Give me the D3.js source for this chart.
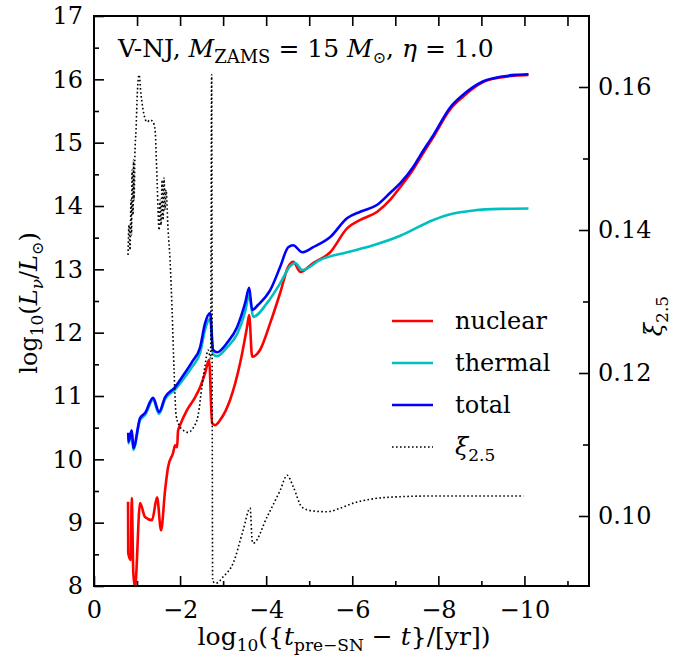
<!DOCTYPE html>
<html lang="en">
<head>
<meta charset="UTF-8">
<title>V-NJ neutrino luminosity</title>
<script src="https://d3js.org/d3.v7.min.js"></script>
<style>
    body { margin: 0; background: #fff; }
    svg { display: block; }
    text { font-family: "DejaVu Serif", "Liberation Serif", serif; fill: #000; }
    .curve { fill: none; stroke-width: 2.6px; stroke-linejoin: round; }
    .xi { fill: none; stroke: #000; stroke-width: 1.6px; stroke-dasharray: 1.6,2.4; }
</style>
</head>
<body>
<svg id="chart" width="697" height="662"></svg>
<script>
// series, [log10(t_pre-SN - t), value]
const nuclear = [
    [-0.791, 9.33], [-0.795, 8.52], [-0.853, 8.41], [-0.877, 9.39], [-0.914, 8.20], [-0.953, 7.98],
    [-1.070, 9.31], [-1.186, 9.09], [-1.349, 9.04], [-1.465, 9.40], [-1.558, 8.88], [-1.651, 9.51],
    [-1.721, 9.88], [-1.837, 10.10], [-1.884, 10.22], [-1.930, 10.19], [-1.953, 10.45], [-2.000, 10.54],
    [-2.163, 10.78], [-2.349, 10.98], [-2.465, 11.14], [-2.581, 11.36], [-2.674, 11.57], [-2.744, 10.57],
    [-2.814, 10.54], [-2.930, 10.62], [-3.163, 10.94], [-3.395, 11.52], [-3.558, 12.10], [-3.605, 12.28],
    [-3.674, 11.62], [-3.860, 11.73], [-4.093, 12.15], [-4.326, 12.63], [-4.512, 13.04], [-4.628, 13.12],
    [-4.791, 12.96], [-5.093, 13.10], [-5.488, 13.27], [-5.884, 13.65], [-6.186, 13.78], [-6.581, 13.91],
    [-6.884, 14.10], [-7.116, 14.30], [-7.419, 14.58], [-7.581, 14.76], [-7.884, 15.09], [-8.279, 15.53],
    [-8.581, 15.73], [-8.814, 15.86], [-9.047, 15.96], [-9.442, 16.03], [-9.800, 16.06], [-10.093, 16.07]
];
const thermal = [
    [-0.795, 10.39], [-0.800, 10.25], [-0.877, 10.43], [-0.914, 10.15], [-1.070, 10.62], [-1.186, 10.70],
    [-1.372, 10.94], [-1.512, 10.72], [-1.651, 10.95], [-1.884, 11.10], [-2.047, 11.24], [-2.279, 11.46],
    [-2.465, 11.68], [-2.581, 12.05], [-2.698, 12.22], [-2.767, 11.66], [-2.860, 11.63], [-3.093, 11.77],
    [-3.326, 11.98], [-3.512, 12.33], [-3.605, 12.60], [-3.698, 12.25], [-4.023, 12.47], [-4.326, 12.78],
    [-4.558, 13.05], [-4.674, 13.10], [-4.837, 12.99], [-5.256, 13.15], [-5.884, 13.27], [-6.488, 13.38],
    [-7.116, 13.53], [-7.884, 13.78], [-8.279, 13.87], [-8.814, 13.93], [-9.442, 13.955], [-10.093, 13.96]
];
const total = [
    [-0.795, 10.42], [-0.800, 10.28], [-0.877, 10.46], [-0.914, 10.18], [-1.070, 10.65], [-1.186, 10.73],
    [-1.372, 10.97], [-1.512, 10.75], [-1.651, 10.98], [-1.884, 11.14], [-2.047, 11.30], [-2.279, 11.54],
    [-2.465, 11.77], [-2.581, 12.15], [-2.698, 12.31], [-2.767, 11.73], [-2.860, 11.69], [-3.093, 11.84],
    [-3.326, 12.09], [-3.512, 12.47], [-3.605, 12.71], [-3.674, 12.36], [-3.814, 12.44], [-4.093, 12.67],
    [-4.326, 13.04], [-4.512, 13.35], [-4.628, 13.38], [-4.837, 13.27], [-5.093, 13.35], [-5.488, 13.51],
    [-5.884, 13.81], [-6.186, 13.91], [-6.581, 14.02], [-6.884, 14.21], [-7.116, 14.36], [-7.419, 14.62],
    [-7.581, 14.80], [-7.884, 15.12], [-8.279, 15.56], [-8.581, 15.76], [-8.814, 15.88], [-9.047, 15.97],
    [-9.442, 16.04], [-9.800, 16.07], [-10.093, 16.08]
];
const xi25 = [
    [-0.791, 0.1365], [-0.814, 0.1407], [-0.837, 0.1372], [-0.860, 0.1442], [-0.872, 0.1393], [-0.884, 0.1484],
    [-0.907, 0.1421], [-0.919, 0.1498], [-0.930, 0.1442], [-0.953, 0.1512], [-0.977, 0.1540], [-1.000, 0.1582],
    [-1.047, 0.1617], [-1.093, 0.1589], [-1.163, 0.1561], [-1.233, 0.1551], [-1.302, 0.1554], [-1.372, 0.1551],
    [-1.419, 0.1540], [-1.465, 0.1470], [-1.512, 0.1400], [-1.535, 0.1442], [-1.558, 0.1407], [-1.581, 0.1470],
    [-1.605, 0.1414], [-1.628, 0.1473], [-1.651, 0.1428], [-1.674, 0.1456], [-1.721, 0.1400], [-1.767, 0.1358],
    [-1.814, 0.1288], [-1.860, 0.1204], [-1.907, 0.1141], [-1.977, 0.1127], [-2.070, 0.1120], [-2.186, 0.1117],
    [-2.302, 0.1123], [-2.419, 0.1141], [-2.512, 0.1183], [-2.581, 0.1211], [-2.651, 0.1232], [-2.709, 0.1220],
    [-2.733, 0.1617], [-2.756, 0.0909], [-2.837, 0.0906], [-3.000, 0.0915], [-3.233, 0.0934], [-3.465, 0.0980],
    [-3.628, 0.1011], [-3.674, 0.0966], [-3.698, 0.0962], [-4.023, 0.0999], [-4.326, 0.1036], [-4.488, 0.1057],
    [-4.628, 0.1041], [-4.837, 0.1012], [-5.093, 0.1007], [-5.419, 0.1006], [-5.721, 0.1011], [-6.023, 0.1018],
    [-6.488, 0.1024], [-7.116, 0.1027], [-7.884, 0.1028], [-9.977, 0.1028]
];

const xTicks = [0, -2, -4, -6, -8, -10];
const yTicks = [8, 9, 10, 11, 12, 13, 14, 15, 16, 17];
const xiTicks = [0.10, 0.12, 0.14, 0.16];

const legendItems = [
    { key: "nuclear", color: "#ff0000" },
    { key: "thermal", color: "#00bfbf" },
    { key: "total", color: "#0000ff" },
    { key: "xi", color: "#000" }
];

const mL = 94, mR = 589, mT = 16, mB = 586;

const x = d3.scaleLinear().domain([0, -11.5]).range([mL, mR]);
const y = d3.scaleLinear().domain([8, 17]).range([mB, mT]);
const yXi = d3.scaleLinear().domain([0.09021, 0.16993]).range([mB, mT]);

const svg = d3.select("#chart");

svg.append("defs").append("clipPath").attr("id", "plotClip")
    .append("rect").attr("x", mL).attr("y", mT)
    .attr("width", mR - mL).attr("height", mB - mT);

const plot = svg.append("g").attr("clip-path", "url(#plotClip)");

const lineL = d3.line().x(d => x(d[0])).y(d => y(d[1])).curve(d3.curveMonotoneX);
const lineXi = d3.line().x(d => x(d[0])).y(d => yXi(d[1])).curve(d3.curveMonotoneX);

plot.append("path").datum(nuclear).attr("class", "curve").attr("stroke", "#ff0000").attr("d", lineL);
plot.append("path").datum(thermal).attr("class", "curve").attr("stroke", "#00bfbf").attr("d", lineL);
plot.append("path").datum(total).attr("class", "curve").attr("stroke", "#0000ff").attr("d", lineL);
plot.append("path").datum(xi25).attr("class", "xi").attr("d", lineXi);

// axes with inward ticks
function styleAxis(g) {
    g.select(".domain").remove();
    g.selectAll("line").attr("stroke", "#000").attr("stroke-width", 1.6);
    g.selectAll("text").style("font-size", "24px");
}

const xMinor = d3.range(-1, -12, -2);
const yMinor = d3.range(8.5, 17, 1);
const xiMinor = [0.11, 0.13, 0.15];

// bottom
svg.append("g").attr("transform", `translate(0,${mB})`)
    .call(d3.axisBottom(x).tickValues(xTicks).tickSizeInner(-10).tickSizeOuter(0).tickPadding(15)
        .tickFormat(d => d === 0 ? "0" : "\u2212" + Math.abs(d)))
    .call(styleAxis);
svg.append("g").attr("transform", `translate(0,${mB})`)
    .call(d3.axisBottom(x).tickValues(xMinor).tickSize(-5).tickFormat(""))
    .call(styleAxis);
// top
svg.append("g").attr("transform", `translate(0,${mT})`)
    .call(d3.axisTop(x).tickValues(d3.range(-1, -12, -1)).tickSize(-10).tickFormat(""))
    .call(styleAxis);
// left
svg.append("g").attr("transform", `translate(${mL},0)`)
    .call(d3.axisLeft(y).tickValues(yTicks).tickSize(-10).tickPadding(11).tickFormat(d3.format("d")))
    .call(styleAxis);
svg.append("g").attr("transform", `translate(${mL},0)`)
    .call(d3.axisLeft(y).tickValues(yMinor).tickSize(-5).tickFormat(""))
    .call(styleAxis);
// right (xi)
svg.append("g").attr("transform", `translate(${mR},0)`)
    .call(d3.axisRight(yXi).tickValues(xiTicks).tickSize(-10).tickPadding(9).tickFormat(d3.format(".2f")))
    .call(styleAxis);
svg.append("g").attr("transform", `translate(${mR},0)`)
    .call(d3.axisRight(yXi).tickValues(xiMinor).tickSize(-6).tickFormat(""))
    .call(styleAxis);

// frame
svg.append("rect").attr("x", mL).attr("y", mT)
    .attr("width", mR - mL).attr("height", mB - mT)
    .attr("fill", "none").attr("stroke", "#000").attr("stroke-width", 2);

// title
const title = svg.append("text").attr("x", 118).attr("y", 57).style("font-size", "25px");
title.append("tspan").text("V-NJ, ");
title.append("tspan").style("font-style", "italic").text("M");
title.append("tspan").attr("dy", 6).style("font-size", "18px").text("ZAMS");
title.append("tspan").attr("dy", -6).text(" = 15 ");
title.append("tspan").style("font-style", "italic").text("M");
title.append("tspan").attr("dy", 6).style("font-size", "16px").text("\u2299");
title.append("tspan").attr("dy", -6).text(", ");
title.append("tspan").style("font-style", "italic").text("\u03b7");
title.append("tspan").text(" = 1.0");

// x label
const xl = svg.append("text").attr("x", 344).attr("y", 645)
    .attr("text-anchor", "middle").style("font-size", "25px");
xl.append("tspan").text("log");
xl.append("tspan").attr("dy", 6).style("font-size", "17px").text("10");
xl.append("tspan").attr("dy", -6).text("({");
xl.append("tspan").style("font-style", "italic").text("t");
xl.append("tspan").attr("dy", 6).style("font-size", "17px").text("pre\u2212SN");
xl.append("tspan").attr("dy", -6).text(" \u2212 ");
xl.append("tspan").style("font-style", "italic").text("t");
xl.append("tspan").text("}/[yr])");

// y label
const yl = svg.append("text").attr("transform", "translate(37,303) rotate(-90)")
    .attr("text-anchor", "middle").style("font-size", "24px");
yl.append("tspan").text("log");
yl.append("tspan").attr("dy", 6).style("font-size", "17px").text("10");
yl.append("tspan").attr("dy", -6).text("(");
yl.append("tspan").style("font-style", "italic").text("L");
yl.append("tspan").attr("dy", 6).style("font-size", "17px").style("font-style", "italic").text("\u03bd");
yl.append("tspan").attr("dy", -6).text("/");
yl.append("tspan").style("font-style", "italic").text("L");
yl.append("tspan").attr("dy", 6).style("font-size", "16px").text("\u2299");
yl.append("tspan").attr("dy", -6).text(")");

// right label
const rl = svg.append("text").attr("transform", "translate(662,316) rotate(-90)")
    .attr("text-anchor", "middle").style("font-size", "24px");
rl.append("tspan").style("font-style", "italic").text("\u03be");
rl.append("tspan").attr("dy", 6).style("font-size", "17px").text("2.5");

// legend
const legend = svg.append("g");
legendItems.forEach((item, i) => {
    const ly = 321 + i * 42;
    const ln = legend.append("line").attr("x1", 392).attr("x2", 433).attr("y1", ly).attr("y2", ly);
    if (item.key === "xi") {
        ln.attr("stroke", "#000").attr("stroke-width", 1.6).attr("stroke-dasharray", "1.6,2.4");
        const t = legend.append("text").attr("x", 455).attr("y", ly + 8).style("font-size", "24px");
        t.append("tspan").style("font-style", "italic").text("\u03be");
        t.append("tspan").attr("dy", 6).style("font-size", "17px").text("2.5");
    } else {
        ln.attr("stroke", item.color).attr("stroke-width", 2.6);
        legend.append("text").attr("x", 455).attr("y", ly + 8).style("font-size", "24px").text(item.key);
    }
});
</script>
</body>
</html>
